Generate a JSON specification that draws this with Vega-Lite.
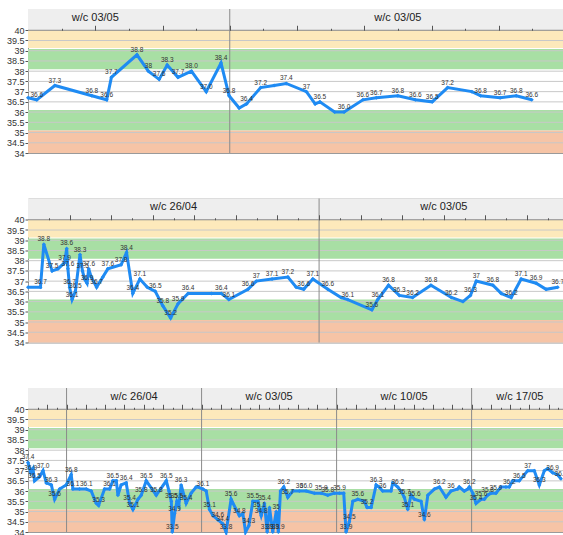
{
"$schema":"https://vega.github.io/schema/vega-lite/v6.json",
"padding":{"left":0,"top":8,"right":0,"bottom":0},
"config":{"font":"Liberation Sans","view":{"stroke":"#9a9a9a","strokeWidth":1}},
"datasets":{
"bands":[{"lo":39.13,"hi":40,"zone":"high"},{"lo":38.1,"hi":39.08,"zone":"raised"},{"lo":35.1,"hi":36.1,"zone":"low"},{"lo":34,"hi":35.1,"zone":"verylow"}],
"grid":[{"t":34.5},{"t":35},{"t":35.5},{"t":36},{"t":36.5},{"t":37},{"t":37.5},{"t":38},{"t":38.5},{"t":39},{"t":39.5}],
"seps":[{"p":1,"d":3},{"p":2,"d":7},{"p":3,"d":2},{"p":3,"d":9},{"p":3,"d":16},{"p":3,"d":23}],
"weeks":[{"p":1,"d":1,"wk":"w/c 03/05"},{"p":1,"d":5.5,"wk":"w/c 03/05"},{"p":2,"d":3.5,"wk":"w/c 26/04"},{"p":2,"d":10,"wk":"w/c 03/05"},{"p":3,"d":5.5,"wk":"w/c 26/04"},{"p":3,"d":12.5,"wk":"w/c 03/05"},{"p":3,"d":19.5,"wk":"w/c 10/05"},{"p":3,"d":25.5,"wk":"w/c 17/05"}],
"temps":[
{"p":1,"d":0,"v":36.7,"l":""},{"p":1,"d":0.13,"v":36.6,"l":"36.6"},{"p":1,"d":0.4,"v":37.3,"l":"37.3"},{"p":1,"d":0.95,"v":36.8,"l":"36.8"},{"p":1,"d":1.17,"v":36.6,"l":"36.6"},{"p":1,"d":1.24,"v":37.7,"l":"37.7"},{"p":1,"d":1.62,"v":38.8,"l":"38.8"},{"p":1,"d":1.79,"v":38.0,"l":"38"},{"p":1,"d":1.95,"v":37.6,"l":"37.6"},{"p":1,"d":2.07,"v":38.3,"l":"38.3"},{"p":1,"d":2.23,"v":37.7,"l":"37.7"},{"p":1,"d":2.43,"v":38.0,"l":"38.0"},{"p":1,"d":2.65,"v":37.0,"l":"37.0"},{"p":1,"d":2.87,"v":38.4,"l":"38.4"},{"p":1,"d":2.99,"v":36.8,"l":"36.8"},{"p":1,"d":3.14,"v":36.2,"l":""},{"p":1,"d":3.25,"v":36.4,"l":"36.4"},{"p":1,"d":3.46,"v":37.2,"l":"37.2"},{"p":1,"d":3.66,"v":37.3,"l":""},{"p":1,"d":3.84,"v":37.4,"l":"37.4"},{"p":1,"d":4.14,"v":37.0,"l":"37"},{"p":1,"d":4.27,"v":36.4,"l":""},{"p":1,"d":4.34,"v":36.5,"l":"36.5"},{"p":1,"d":4.56,"v":36.0,"l":""},{"p":1,"d":4.7,"v":36.0,"l":"36.0"},{"p":1,"d":4.98,"v":36.6,"l":"36.6"},{"p":1,"d":5.18,"v":36.7,"l":"36.7"},{"p":1,"d":5.5,"v":36.8,"l":"36.8"},{"p":1,"d":5.76,"v":36.6,"l":"36.6"},{"p":1,"d":6.01,"v":36.5,"l":"36.5"},{"p":1,"d":6.24,"v":37.2,"l":"37.2"},{"p":1,"d":6.6,"v":37.0,"l":""},{"p":1,"d":6.73,"v":36.8,"l":"36.8"},{"p":1,"d":7.02,"v":36.7,"l":"36.7"},{"p":1,"d":7.26,"v":36.8,"l":"36.8"},{"p":1,"d":7.49,"v":36.6,"l":"36.6"},
{"p":2,"d":0,"v":36.7,"l":""},{"p":2,"d":0.3,"v":36.7,"l":"36.7"},{"p":2,"d":0.38,"v":38.8,"l":"38.8"},{"p":2,"d":0.58,"v":37.5,"l":"37.5"},{"p":2,"d":0.72,"v":37.6,"l":""},{"p":2,"d":0.88,"v":37.9,"l":"37.9"},{"p":2,"d":0.93,"v":38.6,"l":"38.6"},{"p":2,"d":0.96,"v":37.6,"l":"37.6"},{"p":2,"d":1.0,"v":36.7,"l":"36.7"},{"p":2,"d":1.06,"v":36.1,"l":"36.1"},{"p":2,"d":1.14,"v":36.5,"l":"36.5"},{"p":2,"d":1.25,"v":38.3,"l":"38.3"},{"p":2,"d":1.31,"v":37.5,"l":"37.5"},{"p":2,"d":1.36,"v":37.1,"l":""},{"p":2,"d":1.42,"v":36.9,"l":"36.9"},{"p":2,"d":1.46,"v":37.6,"l":"37.6"},{"p":2,"d":1.52,"v":37.2,"l":""},{"p":2,"d":1.65,"v":36.7,"l":"36.7"},{"p":2,"d":1.8,"v":37.2,"l":""},{"p":2,"d":1.92,"v":37.6,"l":"37.6"},{"p":2,"d":2.24,"v":37.8,"l":"37.8"},{"p":2,"d":2.37,"v":38.4,"l":"38.4"},{"p":2,"d":2.52,"v":36.4,"l":"36.4"},{"p":2,"d":2.69,"v":37.1,"l":"37.1"},{"p":2,"d":2.87,"v":36.7,"l":""},{"p":2,"d":3.06,"v":36.5,"l":"36.5"},{"p":2,"d":3.24,"v":35.8,"l":"35.8"},{"p":2,"d":3.43,"v":35.2,"l":"35.2"},{"p":2,"d":3.61,"v":35.9,"l":"35.9"},{"p":2,"d":3.85,"v":36.4,"l":"36.4"},{"p":2,"d":4.41,"v":36.4,"l":""},{"p":2,"d":4.65,"v":36.4,"l":"36.4"},{"p":2,"d":4.83,"v":36.1,"l":"36.1"},{"p":2,"d":5.29,"v":36.6,"l":"36.6"},{"p":2,"d":5.49,"v":37.0,"l":"37"},{"p":2,"d":5.87,"v":37.1,"l":"37.1"},{"p":2,"d":6.25,"v":37.2,"l":"37.2"},{"p":2,"d":6.45,"v":36.7,"l":""},{"p":2,"d":6.63,"v":36.6,"l":"36.6"},{"p":2,"d":6.85,"v":37.1,"l":"37.1"},{"p":2,"d":7.21,"v":36.6,"l":"36.6"},{"p":2,"d":7.53,"v":36.2,"l":""},{"p":2,"d":7.69,"v":36.1,"l":"36.1"},{"p":2,"d":8.27,"v":35.6,"l":"35.6"},{"p":2,"d":8.41,"v":36.1,"l":"36.1"},{"p":2,"d":8.67,"v":36.8,"l":"36.8"},{"p":2,"d":8.93,"v":36.3,"l":"36.3"},{"p":2,"d":9.25,"v":36.2,"l":"36.2"},{"p":2,"d":9.69,"v":36.8,"l":"36.8"},{"p":2,"d":10.18,"v":36.2,"l":"36.2"},{"p":2,"d":10.46,"v":36.0,"l":""},{"p":2,"d":10.64,"v":36.3,"l":"36.3"},{"p":2,"d":10.78,"v":37.0,"l":"37"},{"p":2,"d":11.18,"v":36.8,"l":"36.8"},{"p":2,"d":11.38,"v":36.4,"l":""},{"p":2,"d":11.62,"v":36.2,"l":"36.2"},{"p":2,"d":11.86,"v":37.1,"l":"37.1"},{"p":2,"d":12.22,"v":36.9,"l":"36.9"},{"p":2,"d":12.46,"v":36.6,"l":""},{"p":2,"d":12.74,"v":36.7,"l":"36.7"},
{"p":3,"d":0,"v":37.4,"l":"37.4"},{"p":3,"d":0.14,"v":36.9,"l":"36.9"},{"p":3,"d":0.26,"v":37.1,"l":""},{"p":3,"d":0.34,"v":36.5,"l":"36.5"},{"p":3,"d":0.6,"v":36.7,"l":""},{"p":3,"d":0.78,"v":37.0,"l":"37.0"},{"p":3,"d":0.95,"v":36.4,"l":""},{"p":3,"d":1.21,"v":36.3,"l":"36.3"},{"p":3,"d":1.38,"v":35.6,"l":"35.6"},{"p":3,"d":1.64,"v":36.1,"l":""},{"p":3,"d":1.98,"v":36.3,"l":""},{"p":3,"d":2.24,"v":36.8,"l":"36.8"},{"p":3,"d":2.33,"v":36.1,"l":"36.1"},{"p":3,"d":2.67,"v":36.1,"l":""},{"p":3,"d":3.02,"v":36.1,"l":"36.1"},{"p":3,"d":3.28,"v":36.0,"l":""},{"p":3,"d":3.54,"v":35.4,"l":""},{"p":3,"d":3.66,"v":35.3,"l":"35.3"},{"p":3,"d":3.97,"v":36.1,"l":""},{"p":3,"d":4.23,"v":36.1,"l":"36.1"},{"p":3,"d":4.4,"v":36.5,"l":"36.5"},{"p":3,"d":4.58,"v":36.5,"l":""},{"p":3,"d":4.66,"v":35.8,"l":""},{"p":3,"d":4.83,"v":36.3,"l":""},{"p":3,"d":5.09,"v":36.4,"l":"36.4"},{"p":3,"d":5.27,"v":35.4,"l":"35.4"},{"p":3,"d":5.44,"v":35.1,"l":"35.1"},{"p":3,"d":5.7,"v":35.6,"l":""},{"p":3,"d":5.87,"v":35.8,"l":"35.8"},{"p":3,"d":6.13,"v":36.5,"l":"36.5"},{"p":3,"d":6.65,"v":35.8,"l":"35.8"},{"p":3,"d":7.17,"v":36.5,"l":"36.5"},{"p":3,"d":7.31,"v":36.0,"l":""},{"p":3,"d":7.43,"v":35.5,"l":"35.5"},{"p":3,"d":7.48,"v":33.5,"l":"33.5"},{"p":3,"d":7.6,"v":34.9,"l":"34.9"},{"p":3,"d":7.72,"v":35.5,"l":"35.5"},{"p":3,"d":7.82,"v":35.3,"l":""},{"p":3,"d":7.94,"v":36.3,"l":"36.3"},{"p":3,"d":8.2,"v":35.4,"l":"35.4"},{"p":3,"d":8.46,"v":35.9,"l":""},{"p":3,"d":8.72,"v":36.2,"l":""},{"p":3,"d":8.81,"v":36.2,"l":""},{"p":3,"d":9.07,"v":36.1,"l":"36.1"},{"p":3,"d":9.24,"v":36.0,"l":""},{"p":3,"d":9.41,"v":35.1,"l":"35.1"},{"p":3,"d":9.59,"v":34.8,"l":""},{"p":3,"d":9.84,"v":34.6,"l":"34.6"},{"p":3,"d":10.1,"v":34.4,"l":"34.4"},{"p":3,"d":10.27,"v":33.8,"l":"33.8"},{"p":3,"d":10.53,"v":35.6,"l":"35.6"},{"p":3,"d":10.79,"v":35.1,"l":""},{"p":3,"d":10.96,"v":34.8,"l":"34.8"},{"p":3,"d":11.14,"v":34.9,"l":""},{"p":3,"d":11.28,"v":33.9,"l":""},{"p":3,"d":11.45,"v":34.3,"l":"34.3"},{"p":3,"d":11.66,"v":35.5,"l":"35.5"},{"p":3,"d":11.92,"v":35.5,"l":""},{"p":3,"d":12.0,"v":35.1,"l":"35.1"},{"p":3,"d":12.09,"v":34.8,"l":"34.8"},{"p":3,"d":12.26,"v":35.4,"l":"35.4"},{"p":3,"d":12.4,"v":33.9,"l":"33.9"},{"p":3,"d":12.52,"v":35.2,"l":""},{"p":3,"d":12.69,"v":33.9,"l":"33.9"},{"p":3,"d":12.87,"v":35.0,"l":"35"},{"p":3,"d":12.98,"v":33.9,"l":"33.9"},{"p":3,"d":13.09,"v":36.0,"l":""},{"p":3,"d":13.26,"v":36.2,"l":"36.2"},{"p":3,"d":13.47,"v":35.7,"l":"35.7"},{"p":3,"d":13.73,"v":36.0,"l":""},{"p":3,"d":14.07,"v":36.0,"l":"36"},{"p":3,"d":14.42,"v":36.0,"l":"36.0"},{"p":3,"d":14.85,"v":35.9,"l":""},{"p":3,"d":15.2,"v":35.9,"l":"35.9"},{"p":3,"d":15.54,"v":35.8,"l":"35.8"},{"p":3,"d":15.89,"v":35.9,"l":""},{"p":3,"d":16.15,"v":35.9,"l":"35.9"},{"p":3,"d":16.37,"v":35.9,"l":""},{"p":3,"d":16.49,"v":33.9,"l":"33.9"},{"p":3,"d":16.66,"v":34.5,"l":"34.5"},{"p":3,"d":16.84,"v":35.5,"l":""},{"p":3,"d":17.1,"v":35.6,"l":"35.6"},{"p":3,"d":17.44,"v":35.5,"l":""},{"p":3,"d":17.58,"v":35.2,"l":"35.2"},{"p":3,"d":17.79,"v":35.2,"l":""},{"p":3,"d":18.05,"v":36.3,"l":"36.3"},{"p":3,"d":18.2,"v":36.2,"l":""},{"p":3,"d":18.39,"v":36.0,"l":"36"},{"p":3,"d":18.82,"v":36.0,"l":""},{"p":3,"d":18.91,"v":36.4,"l":""},{"p":3,"d":19.17,"v":36.2,"l":"36.2"},{"p":3,"d":19.34,"v":36.0,"l":""},{"p":3,"d":19.51,"v":35.7,"l":"35.7"},{"p":3,"d":19.69,"v":35.1,"l":"35.1"},{"p":3,"d":19.86,"v":35.8,"l":""},{"p":3,"d":20.03,"v":35.6,"l":"35.6"},{"p":3,"d":20.38,"v":35.5,"l":""},{"p":3,"d":20.55,"v":34.6,"l":"34.6"},{"p":3,"d":20.73,"v":35.8,"l":""},{"p":3,"d":21.07,"v":36.1,"l":""},{"p":3,"d":21.33,"v":36.2,"l":"36.2"},{"p":3,"d":21.67,"v":35.7,"l":""},{"p":3,"d":21.93,"v":36.0,"l":"36"},{"p":3,"d":22.28,"v":36.1,"l":""},{"p":3,"d":22.36,"v":36.2,"l":""},{"p":3,"d":22.62,"v":36.0,"l":""},{"p":3,"d":22.8,"v":36.1,"l":""},{"p":3,"d":22.88,"v":36.2,"l":"36.2"},{"p":3,"d":23.06,"v":35.9,"l":""},{"p":3,"d":23.23,"v":35.4,"l":"35.4"},{"p":3,"d":23.49,"v":35.6,"l":"35.6"},{"p":3,"d":23.66,"v":35.6,"l":""},{"p":3,"d":23.83,"v":35.8,"l":"35.8"},{"p":3,"d":24.0,"v":35.9,"l":""},{"p":3,"d":24.26,"v":35.9,"l":"35.9"},{"p":3,"d":24.52,"v":36.2,"l":""},{"p":3,"d":24.78,"v":36.2,"l":""},{"p":3,"d":24.95,"v":36.2,"l":"36.2"},{"p":3,"d":25.13,"v":36.5,"l":""},{"p":3,"d":25.47,"v":36.5,"l":"36.5"},{"p":3,"d":25.91,"v":37.0,"l":"37"},{"p":3,"d":26.25,"v":37.0,"l":""},{"p":3,"d":26.51,"v":36.3,"l":"36.3"},{"p":3,"d":26.77,"v":37.0,"l":""},{"p":3,"d":26.94,"v":37.1,"l":""},{"p":3,"d":27.2,"v":36.9,"l":"36.9"},{"p":3,"d":27.46,"v":36.8,"l":""},{"p":3,"d":27.63,"v":36.6,"l":"36.6"}
]},
"vconcat":[
{"width":536,"height":144,"resolve":{"axis":{"x":"independent","y":"independent"}},
"layer":[
{"data":{"name":"bands"},"mark":{"type":"rect"},"encoding":{"y":{"field":"lo","type":"quantitative","scale":{"domain":[34,41.04],"nice":false,"zero":false,"clamp":true},"axis":{"orient":"left","values":[34,34.5,35,35.5,36,36.5,37,37.5,38,38.5,39,39.5,40],"labelExpr":"datum.value","title":null,"grid":false,"domain":false,"tickSize":3,"tickColor":"#555555","labelFontSize":9,"labelColor":"#333333","labelPadding":1,"labelOverlap":false,"labelFlush":false,"minExtent":27,"maxExtent":27}},"y2":{"field":"hi"},"color":{"field":"zone","type":"nominal","scale":{"domain":["high","raised","low","verylow"],"range":["#fde9bb","#a8dfa4","#a8dfa4","#f6c4a6"]},"legend":null}}},
{"data":{"name":"grid"},"mark":{"type":"rule","color":"#c8c8c8"},"encoding":{"y":{"field":"t","type":"quantitative","scale":{"domain":[34,41.04],"nice":false,"zero":false,"clamp":true},"axis":null}}},
{"data":{"values":[{}]},"mark":{"type":"rect","fill":"#eeeeee"},"encoding":{"y":{"datum":40,"type":"quantitative","scale":{"domain":[34,41.04],"nice":false,"zero":false,"clamp":true},"axis":null},"y2":{"datum":41.04}}},
{"data":{"values":[{}]},"mark":{"type":"rule","color":"#888888"},"encoding":{"y":{"datum":40,"type":"quantitative","scale":{"domain":[34,41.04],"nice":false,"zero":false,"clamp":true},"axis":null}}},
{"data":{"name":"seps"},"transform":[{"filter":"datum.p==1"}],"mark":{"type":"rule","color":"#8a8a8a"},"encoding":{"x":{"field":"d","type":"quantitative","scale":{"domain":[0,7.97],"nice":false,"zero":false},"axis":{"orient":"top","offset":-21.27,"values":[0.5,1.5,2.5,3.5,4.5,5.5,6.5,7.5],"labels":false,"domain":false,"grid":false,"tickSize":2,"tickColor":"#555555","title":null,"minExtent":0,"maxExtent":0,"zindex":1}}}},
{"data":{"name":"weeks"},"transform":[{"filter":"datum.p==1"}],"mark":{"type":"text","fontSize":11,"color":"#222222"},"encoding":{"x":{"field":"d","type":"quantitative","scale":{"domain":[0,7.97],"nice":false,"zero":false},"axis":{"orient":"top","offset":-21.27,"values":[1,2,3,4,5,6,7],"labels":false,"domain":false,"grid":false,"tickSize":5,"tickColor":"#555555","title":null,"minExtent":0,"maxExtent":0,"zindex":1}},"y":{"datum":40.62,"type":"quantitative","scale":{"domain":[34,41.04],"nice":false,"zero":false,"clamp":true},"axis":null},"text":{"field":"wk"}}},
{"data":{"name":"temps"},"transform":[{"filter":"datum.p==1"}],"mark":{"type":"line","color":"#1f8bf3","strokeWidth":3},"encoding":{"x":{"field":"d","type":"quantitative","scale":{"domain":[0,7.97],"nice":false,"zero":false},"axis":null},"y":{"field":"v","type":"quantitative","scale":{"domain":[34,41.04],"nice":false,"zero":false,"clamp":true},"axis":null}}},
{"data":{"name":"temps"},"transform":[{"filter":"datum.p==1"}],"mark":{"type":"point","shape":"diamond","filled":true,"size":16,"opacity":1,"color":"#1f8bf3"},"encoding":{"x":{"field":"d","type":"quantitative","scale":{"domain":[0,7.97],"nice":false,"zero":false},"axis":null},"y":{"field":"v","type":"quantitative","scale":{"domain":[34,41.04],"nice":false,"zero":false,"clamp":true},"axis":null}}},
{"data":{"name":"temps"},"transform":[{"filter":"datum.p==1 && datum.l != ''"}],"mark":{"type":"text","fontSize":6.5,"color":"#333333","dy":-5},"encoding":{"x":{"field":"d","type":"quantitative","scale":{"domain":[0,7.97],"nice":false,"zero":false},"axis":null},"y":{"field":"v","type":"quantitative","scale":{"domain":[34,41.04],"nice":false,"zero":false,"clamp":true},"axis":null},"text":{"field":"l"}}}
]},
{"width":536,"height":144,"resolve":{"axis":{"x":"independent","y":"independent"}},
"layer":[
{"data":{"name":"bands"},"mark":{"type":"rect"},"encoding":{"y":{"field":"lo","type":"quantitative","scale":{"domain":[34,41.04],"nice":false,"zero":false,"clamp":true},"axis":{"orient":"left","values":[34,34.5,35,35.5,36,36.5,37,37.5,38,38.5,39,39.5,40],"labelExpr":"datum.value","title":null,"grid":false,"domain":false,"tickSize":3,"tickColor":"#555555","labelFontSize":9,"labelColor":"#333333","labelPadding":1,"labelOverlap":false,"labelFlush":false,"minExtent":27,"maxExtent":27}},"y2":{"field":"hi"},"color":{"field":"zone","type":"nominal","scale":{"domain":["high","raised","low","verylow"],"range":["#fde9bb","#a8dfa4","#a8dfa4","#f6c4a6"]},"legend":null}}},
{"data":{"name":"grid"},"mark":{"type":"rule","color":"#c8c8c8"},"encoding":{"y":{"field":"t","type":"quantitative","scale":{"domain":[34,41.04],"nice":false,"zero":false,"clamp":true},"axis":null}}},
{"data":{"values":[{}]},"mark":{"type":"rect","fill":"#eeeeee"},"encoding":{"y":{"datum":40,"type":"quantitative","scale":{"domain":[34,41.04],"nice":false,"zero":false,"clamp":true},"axis":null},"y2":{"datum":41.04}}},
{"data":{"values":[{}]},"mark":{"type":"rule","color":"#888888"},"encoding":{"y":{"datum":40,"type":"quantitative","scale":{"domain":[34,41.04],"nice":false,"zero":false,"clamp":true},"axis":null}}},
{"data":{"name":"seps"},"transform":[{"filter":"datum.p==2"}],"mark":{"type":"rule","color":"#8a8a8a"},"encoding":{"x":{"field":"d","type":"quantitative","scale":{"domain":[0,12.89],"nice":false,"zero":false},"axis":{"orient":"top","offset":-21.27,"values":[0.5,1.5,2.5,3.5,4.5,5.5,6.5,7.5,8.5,9.5,10.5,11.5,12.5],"labels":false,"domain":false,"grid":false,"tickSize":2,"tickColor":"#555555","title":null,"minExtent":0,"maxExtent":0,"zindex":1}}}},
{"data":{"name":"weeks"},"transform":[{"filter":"datum.p==2"}],"mark":{"type":"text","fontSize":11,"color":"#222222"},"encoding":{"x":{"field":"d","type":"quantitative","scale":{"domain":[0,12.89],"nice":false,"zero":false},"axis":{"orient":"top","offset":-21.27,"values":[1,2,3,4,5,6,7,8,9,10,11,12],"labels":false,"domain":false,"grid":false,"tickSize":5,"tickColor":"#555555","title":null,"minExtent":0,"maxExtent":0,"zindex":1}},"y":{"datum":40.62,"type":"quantitative","scale":{"domain":[34,41.04],"nice":false,"zero":false,"clamp":true},"axis":null},"text":{"field":"wk"}}},
{"data":{"name":"temps"},"transform":[{"filter":"datum.p==2"}],"mark":{"type":"line","color":"#1f8bf3","strokeWidth":3},"encoding":{"x":{"field":"d","type":"quantitative","scale":{"domain":[0,12.89],"nice":false,"zero":false},"axis":null},"y":{"field":"v","type":"quantitative","scale":{"domain":[34,41.04],"nice":false,"zero":false,"clamp":true},"axis":null}}},
{"data":{"name":"temps"},"transform":[{"filter":"datum.p==2"}],"mark":{"type":"point","shape":"diamond","filled":true,"size":16,"opacity":1,"color":"#1f8bf3"},"encoding":{"x":{"field":"d","type":"quantitative","scale":{"domain":[0,12.89],"nice":false,"zero":false},"axis":null},"y":{"field":"v","type":"quantitative","scale":{"domain":[34,41.04],"nice":false,"zero":false,"clamp":true},"axis":null}}},
{"data":{"name":"temps"},"transform":[{"filter":"datum.p==2 && datum.l != ''"}],"mark":{"type":"text","fontSize":6.5,"color":"#333333","dy":-5},"encoding":{"x":{"field":"d","type":"quantitative","scale":{"domain":[0,12.89],"nice":false,"zero":false},"axis":null},"y":{"field":"v","type":"quantitative","scale":{"domain":[34,41.04],"nice":false,"zero":false,"clamp":true},"axis":null},"text":{"field":"l"}}}
]},
{"width":536,"height":144,"resolve":{"axis":{"x":"independent","y":"independent"}},
"layer":[
{"data":{"name":"bands"},"mark":{"type":"rect"},"encoding":{"y":{"field":"lo","type":"quantitative","scale":{"domain":[34,41.04],"nice":false,"zero":false,"clamp":true},"axis":{"orient":"left","values":[34,34.5,35,35.5,36,36.5,37,37.5,38,38.5,39,39.5,40],"labelExpr":"datum.value","title":null,"grid":false,"domain":false,"tickSize":3,"tickColor":"#555555","labelFontSize":9,"labelColor":"#333333","labelPadding":1,"labelOverlap":false,"labelFlush":false,"minExtent":27,"maxExtent":27}},"y2":{"field":"hi"},"color":{"field":"zone","type":"nominal","scale":{"domain":["high","raised","low","verylow"],"range":["#fde9bb","#a8dfa4","#a8dfa4","#f6c4a6"]},"legend":null}}},
{"data":{"name":"grid"},"mark":{"type":"rule","color":"#c8c8c8"},"encoding":{"y":{"field":"t","type":"quantitative","scale":{"domain":[34,41.04],"nice":false,"zero":false,"clamp":true},"axis":null}}},
{"data":{"values":[{}]},"mark":{"type":"rect","fill":"#eeeeee"},"encoding":{"y":{"datum":40,"type":"quantitative","scale":{"domain":[34,41.04],"nice":false,"zero":false,"clamp":true},"axis":null},"y2":{"datum":41.04}}},
{"data":{"values":[{}]},"mark":{"type":"rule","color":"#888888"},"encoding":{"y":{"datum":40,"type":"quantitative","scale":{"domain":[34,41.04],"nice":false,"zero":false,"clamp":true},"axis":null}}},
{"data":{"name":"seps"},"transform":[{"filter":"datum.p==3"}],"mark":{"type":"rule","color":"#8a8a8a"},"encoding":{"x":{"field":"d","type":"quantitative","scale":{"domain":[0,27.79],"nice":false,"zero":false},"axis":{"orient":"top","offset":-21.27,"values":[0.5,1.5,2.5,3.5,4.5,5.5,6.5,7.5,8.5,9.5,10.5,11.5,12.5,13.5,14.5,15.5,16.5,17.5,18.5,19.5,20.5,21.5,22.5,23.5,24.5,25.5,26.5,27.5],"labels":false,"domain":false,"grid":false,"tickSize":2,"tickColor":"#555555","title":null,"minExtent":0,"maxExtent":0,"zindex":1}}}},
{"data":{"name":"weeks"},"transform":[{"filter":"datum.p==3"}],"mark":{"type":"text","fontSize":11,"color":"#222222"},"encoding":{"x":{"field":"d","type":"quantitative","scale":{"domain":[0,27.79],"nice":false,"zero":false},"axis":{"orient":"top","offset":-21.27,"values":[1,2,3,4,5,6,7,8,9,10,11,12,13,14,15,16,17,18,19,20,21,22,23,24,25,26,27],"labels":false,"domain":false,"grid":false,"tickSize":5,"tickColor":"#555555","title":null,"minExtent":0,"maxExtent":0,"zindex":1}},"y":{"datum":40.62,"type":"quantitative","scale":{"domain":[34,41.04],"nice":false,"zero":false,"clamp":true},"axis":null},"text":{"field":"wk"}}},
{"data":{"name":"temps"},"transform":[{"filter":"datum.p==3"}],"mark":{"type":"line","color":"#1f8bf3","strokeWidth":3},"encoding":{"x":{"field":"d","type":"quantitative","scale":{"domain":[0,27.79],"nice":false,"zero":false},"axis":null},"y":{"field":"v","type":"quantitative","scale":{"domain":[34,41.04],"nice":false,"zero":false,"clamp":true},"axis":null}}},
{"data":{"name":"temps"},"transform":[{"filter":"datum.p==3"}],"mark":{"type":"point","shape":"diamond","filled":true,"size":16,"opacity":1,"color":"#1f8bf3"},"encoding":{"x":{"field":"d","type":"quantitative","scale":{"domain":[0,27.79],"nice":false,"zero":false},"axis":null},"y":{"field":"v","type":"quantitative","scale":{"domain":[34,41.04],"nice":false,"zero":false,"clamp":true},"axis":null}}},
{"data":{"name":"temps"},"transform":[{"filter":"datum.p==3 && datum.l != ''"}],"mark":{"type":"text","fontSize":6.5,"color":"#333333","dy":-5},"encoding":{"x":{"field":"d","type":"quantitative","scale":{"domain":[0,27.79],"nice":false,"zero":false},"axis":null},"y":{"field":"v","type":"quantitative","scale":{"domain":[34,41.04],"nice":false,"zero":false,"clamp":true},"axis":null},"text":{"field":"l"}}}
]}
],
"spacing":45.5,
"bounds":"flush"
}
